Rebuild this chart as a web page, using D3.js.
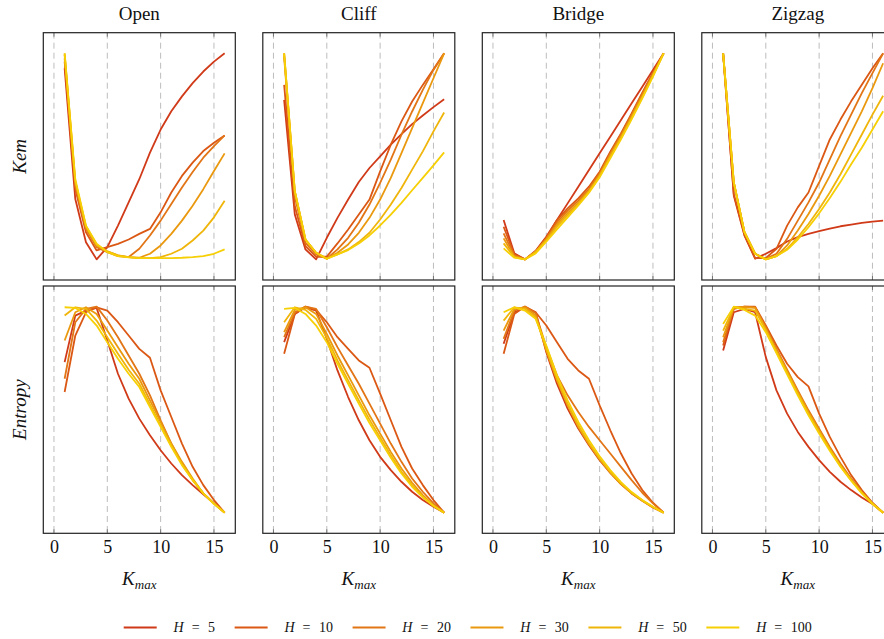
<!DOCTYPE html>
<html><head><meta charset="utf-8">
<script src="https://cdn.jsdelivr.net/npm/d3@7"></script>
<style>
body{margin:0;background:#fff}
svg{display:block}
svg text{font-family:"Liberation Serif","Tinos","Times New Roman","Times","Nimbus Roman","Nimbus Roman No9 L","Noto Serif","DejaVu Serif","FreeSerif",serif;fill:#111}
</style>
</head><body>
<svg id="chart" width="884" height="639"></svg>
<script>
// ---------- data ----------
const kValues = [1,2,3,4,5,6,7,8,9,10,11,12,13,14,15,16];
const environments = ["Open","Cliff","Bridge","Zigzag"];
const metrics = ["Kem","Entropy"];
const horizons = [5,10,20,30,50,100];
const seriesColors = ["#d03a18","#db5814","#e27516","#ea990f","#f0b50a","#f6cf05"];
const xTicks = [0,5,10,15];

// Kem (arbitrary units), one row per horizon H = 5,10,20,30,50,100
const kemOpen = [
 [57.7,18.2,5.2,0,3.7,10.2,17.2,24.2,32.2,39.2,44.7,49.2,53.2,56.7,59.7,62.2],
 [59.7,21.2,8.2,2.7,3.7,4.7,6.0,7.7,9.2,14.2,20.2,25.2,29.2,32.7,35.2,37.4],
 [60.7,22.2,9.2,3.7,2.2,1.0,0.7,3.2,7.2,11.7,16.7,21.7,26.4,30.7,34.2,37.4],
 [61.7,23.2,9.7,4.2,2.4,1.2,0.7,0.5,1.7,4.2,7.7,11.7,16.2,21.2,26.7,32.0],
 [62.2,23.7,10.0,4.4,2.4,1.2,0.7,0.4,0.4,0.7,1.7,3.2,5.7,8.7,12.7,17.7],
 [62.2,24.2,10.2,4.7,2.2,1.0,0.6,0.4,0.4,0.4,0.4,0.5,0.7,1.0,1.7,3.0]
];
const kemCliff = [
 [48.0,13.5,3.0,0,6.5,12.5,18.0,23.3,27.5,31.0,34.5,37.7,40.7,43.3,45.8,48.2],
 [52.5,16.0,4.0,0.8,0.8,4.8,9.0,13.5,18.0,26.5,34.5,41.5,47.5,52.5,57.2,62.0],
 [61.0,19.0,5.0,1.5,0.2,3.0,6.5,11.0,16.5,23.0,30.0,37.5,44.5,51.0,57.0,62.0],
 [62.0,20.5,6.0,2.0,0.2,2.0,4.5,8.0,12.5,18.0,24.5,32.0,39.5,47.0,54.5,62.0],
 [62.0,20.5,6.0,2.0,0.2,1.5,3.0,5.2,8.0,12.0,16.5,21.5,27.0,32.5,38.5,44.2],
 [62.0,20.5,6.0,2.0,0.2,1.5,2.8,4.8,7.2,10.2,13.5,17.0,20.8,24.5,28.3,32.2]
];
const kemBridge = [
 [11.8,1.8,0,2.6,6.8,11.8,16.8,21.8,26.8,31.8,36.8,41.8,46.8,51.8,56.8,61.8],
 [9.8,1.5,0,2.3,6.5,11.8,15.3,18.3,21.8,26.3,32.3,37.8,43.8,50.0,56.0,61.8],
 [7.8,1.2,0,2.3,6.3,11.1,14.6,17.6,21.1,25.8,31.8,37.4,43.4,49.6,55.7,61.8],
 [6.3,0.9,0,2.3,6.0,10.4,13.9,17.0,20.6,25.3,31.3,36.8,42.8,49.0,55.4,61.8],
 [4.8,0.7,0,2.3,5.6,9.8,13.3,16.6,20.3,25.0,30.8,36.4,42.4,48.6,55.1,61.8],
 [3.3,0.5,0,1.8,5.3,9.0,12.6,16.2,20.0,24.6,30.3,36.0,42.0,48.3,54.8,61.8]
];
const kemZigzag = [
 [62.2,19.2,7.2,0.2,1.7,3.4,5.4,6.7,7.7,8.5,9.3,10.0,10.5,11.0,11.4,11.7],
 [62.2,19.7,7.4,0.4,0.4,3.2,10.2,15.7,20.2,28.2,36.2,42.2,47.7,52.7,57.7,62.2],
 [62.2,23.2,8.2,1.7,0.2,1.7,6.2,11.7,17.2,23.2,30.2,37.2,43.7,50.2,56.2,62.2],
 [62.2,23.2,8.2,1.7,0,1.0,4.2,8.7,13.7,19.2,25.2,31.7,38.2,44.7,51.7,59.2],
 [62.2,23.2,8.2,1.7,0,1.0,3.2,6.7,10.7,15.2,20.2,25.7,31.7,37.7,43.7,49.4],
 [62.2,23.2,8.2,1.7,0,1.0,2.9,6.0,9.7,13.9,18.5,23.4,28.7,33.7,39.2,44.7]
];
// Entropy (arbitrary units)
const entOpen = [
 [45.3,59.3,60.8,61.6,51.8,41.8,34.3,28.3,23.3,18.8,14.8,11.3,8.3,5.5,2.8,0],
 [36.3,53.3,60.3,61.8,60.8,57.3,53.3,49.3,46.6,36.8,28.8,20.8,13.8,8.3,3.8,0],
 [40.3,57.3,61.3,62.0,57.8,52.8,47.3,41.8,35.3,27.8,20.8,14.8,9.8,5.8,2.8,0],
 [51.8,60.3,61.8,59.8,54.8,49.8,44.8,40.3,33.8,27.3,20.8,15.3,10.3,5.8,2.8,0],
 [59.3,61.8,61.3,57.8,52.8,47.8,43.0,38.8,32.6,26.3,20.3,14.6,10.0,5.8,2.8,0],
 [61.8,61.6,59.8,56.3,51.3,46.3,41.8,37.8,31.8,25.8,19.8,14.3,9.8,5.8,2.6,0]
];
const entCliff = [
 [51.3,59.8,61.8,60.8,52.3,42.8,34.8,27.8,21.8,16.8,12.8,9.3,6.3,3.8,1.8,0],
 [47.8,59.8,62.0,61.0,57.3,52.8,49.3,45.8,43.6,35.8,27.8,19.8,13.3,8.3,3.8,0],
 [52.8,60.3,62.0,61.3,55.8,49.8,44.3,38.8,32.8,26.8,20.8,15.3,10.3,6.3,2.8,0],
 [54.3,61.0,61.8,59.8,53.8,47.3,41.3,35.3,29.3,23.8,18.3,13.3,9.0,5.3,2.3,0],
 [57.3,61.8,61.0,58.3,52.6,45.8,39.8,33.8,28.0,22.6,17.3,12.3,8.3,4.8,2.1,0],
 [61.3,61.6,59.8,56.3,51.3,44.8,38.8,32.8,27.0,21.8,16.5,11.8,7.8,4.6,2.0,0]
];
const entBridge = [
 [50.8,60.3,61.8,60.3,48.3,38.8,31.3,25.3,20.3,15.8,12.0,8.6,5.8,3.6,1.6,0],
 [47.8,59.8,62.0,60.3,56.3,51.3,46.3,42.8,40.3,32.3,24.8,17.8,11.8,6.8,3.0,0],
 [52.3,60.8,62.0,60.0,49.8,41.3,35.3,30.3,25.8,21.8,17.8,13.8,9.8,6.0,2.8,0],
 [54.8,61.3,61.8,59.3,48.8,39.8,32.3,25.8,20.6,16.0,12.0,8.6,5.8,3.6,1.6,0],
 [57.8,61.8,61.3,58.8,49.3,40.3,32.8,26.3,21.0,16.3,12.3,8.8,6.0,3.7,1.7,0],
 [60.3,61.8,60.8,58.3,50.3,41.3,33.8,27.3,21.8,17.0,12.8,9.2,6.2,3.8,1.8,0]
];
const entZigzag = [
 [48.8,60.3,61.3,60.3,46.8,36.8,29.8,24.3,19.8,15.8,12.3,9.3,6.8,4.6,2.6,0],
 [50.3,61.3,62.0,62.0,56.3,50.3,44.8,40.8,38.0,29.8,22.8,16.8,11.3,6.8,3.0,0],
 [51.3,61.6,62.0,61.8,55.8,49.3,43.0,36.8,30.8,25.3,19.8,14.8,10.3,6.3,2.8,0],
 [52.8,61.8,61.8,61.6,55.3,48.8,42.6,36.3,30.3,24.8,19.3,14.3,10.0,6.1,2.7,0],
 [54.8,61.8,61.3,60.8,55.0,48.5,42.1,35.8,29.8,24.3,19.0,14.0,9.8,6.0,2.7,0],
 [56.8,62.0,61.0,59.3,54.3,48.0,41.6,35.3,29.3,23.8,18.6,13.8,9.6,5.8,2.6,0]
];
const panelData = [
  [kemOpen, kemCliff, kemBridge, kemZigzag],
  [entOpen, entCliff, entBridge, entZigzag]
];

// ---------- layout ----------
const svg = d3.select("#chart");
const panelW = 192, panelH = 247.3;
const panelLeft = environments.map((_, i) => 43.3 + i * 219.5);
const panelTop = [32.7, 286];

const x = d3.scaleLinear().domain([-1, 17]).range([0, panelW]);

panelData.forEach((row, r) => {
  row.forEach((series, c) => {
    const g = svg.append("g").attr("transform", `translate(${panelLeft[c]},${panelTop[r]})`);
    const all = series.flat();
    const [mn, mx] = d3.extent(all);
    const pad = (mx - mn) * 0.1;
    const y = d3.scaleLinear().domain([mn - pad, mx + pad]).range([panelH, 0]);

    g.selectAll("line.grid").data(xTicks).join("line")
      .attr("class", "grid")
      .attr("x1", d => x(d)).attr("x2", d => x(d))
      .attr("y1", 0).attr("y2", panelH)
      .attr("stroke", "#bdbdbd").attr("stroke-width", 1)
      .attr("stroke-dasharray", "6,4");
    g.selectAll("line.tickb").data(xTicks).join("line")
      .attr("class", "tickb")
      .attr("x1", d => x(d)).attr("x2", d => x(d))
      .attr("y1", panelH).attr("y2", panelH - 4)
      .attr("stroke", "#777").attr("stroke-width", 1);
    g.selectAll("line.tickt").data(xTicks).join("line")
      .attr("class", "tickt")
      .attr("x1", d => x(d)).attr("x2", d => x(d))
      .attr("y1", 0).attr("y2", 4)
      .attr("stroke", "#777").attr("stroke-width", 1);

    const line = d3.line().x((d, i) => x(kValues[i])).y(d => y(d));
    series.forEach((vals, si) => {
      g.append("path").datum(vals)
        .attr("d", line)
        .attr("fill", "none")
        .attr("stroke", seriesColors[si])
        .attr("stroke-width", 1.8)
        .attr("stroke-linejoin", "round");
    });

    g.append("rect").attr("x", 0).attr("y", 0)
      .attr("width", panelW).attr("height", panelH)
      .attr("fill", "none").attr("stroke", "#222").attr("stroke-width", 1.2);

    if (r === 1) {
      const ax = g.append("g").attr("transform", `translate(0,${panelH})`)
        .call(d3.axisBottom(x).tickValues(xTicks).tickSize(0).tickPadding(6.6));
      ax.attr("font-family", null).attr("font-size", null);
      ax.select(".domain").remove();
      ax.selectAll("text").style("font-size", "18px").style("fill", "#111");

      const xl = svg.append("text")
        .attr("x", panelLeft[c] + panelW / 2).attr("y", 585)
        .attr("text-anchor", "middle");
      xl.append("tspan").style("font-style", "italic").style("font-size", "19px").text("K");
      xl.append("tspan").style("font-style", "italic").style("font-size", "13px").attr("dy", 4).text("max");
    }
    if (r === 0) {
      svg.append("text")
        .attr("x", panelLeft[c] + panelW / 2).attr("y", 19.5)
        .attr("text-anchor", "middle")
        .style("font-size", "19px").text(environments[c]);
    }
    if (c === 0) {
      const cy = panelTop[r] + panelH / 2;
      svg.append("text")
        .attr("transform", `translate(26,${cy}) rotate(-90)`)
        .attr("text-anchor", "middle")
        .style("font-style", "italic").style("font-size", "19px")
        .text(metrics[r]);
    }
  });
});

// ---------- legend ----------
const legY = 627.5;
let lx = 123.7;
horizons.forEach((h, i) => {
  svg.append("line").attr("x1", lx).attr("x2", lx + 33)
    .attr("y1", legY).attr("y2", legY)
    .attr("stroke", seriesColors[i]).attr("stroke-width", 1.8);
  const tx = lx + 49.8;
  const t = svg.append("text").attr("x", tx).attr("y", legY + 4.5)
    .style("font-size", "14px");
  t.append("tspan").style("font-style", "italic").text("H");
  t.append("tspan").attr("dx", 8).text("=");
  t.append("tspan").attr("dx", 8.5).text(String(h));
  const w = t.node().getBBox().width;
  lx = tx + w + 18.6;
});
</script>
</body></html>
